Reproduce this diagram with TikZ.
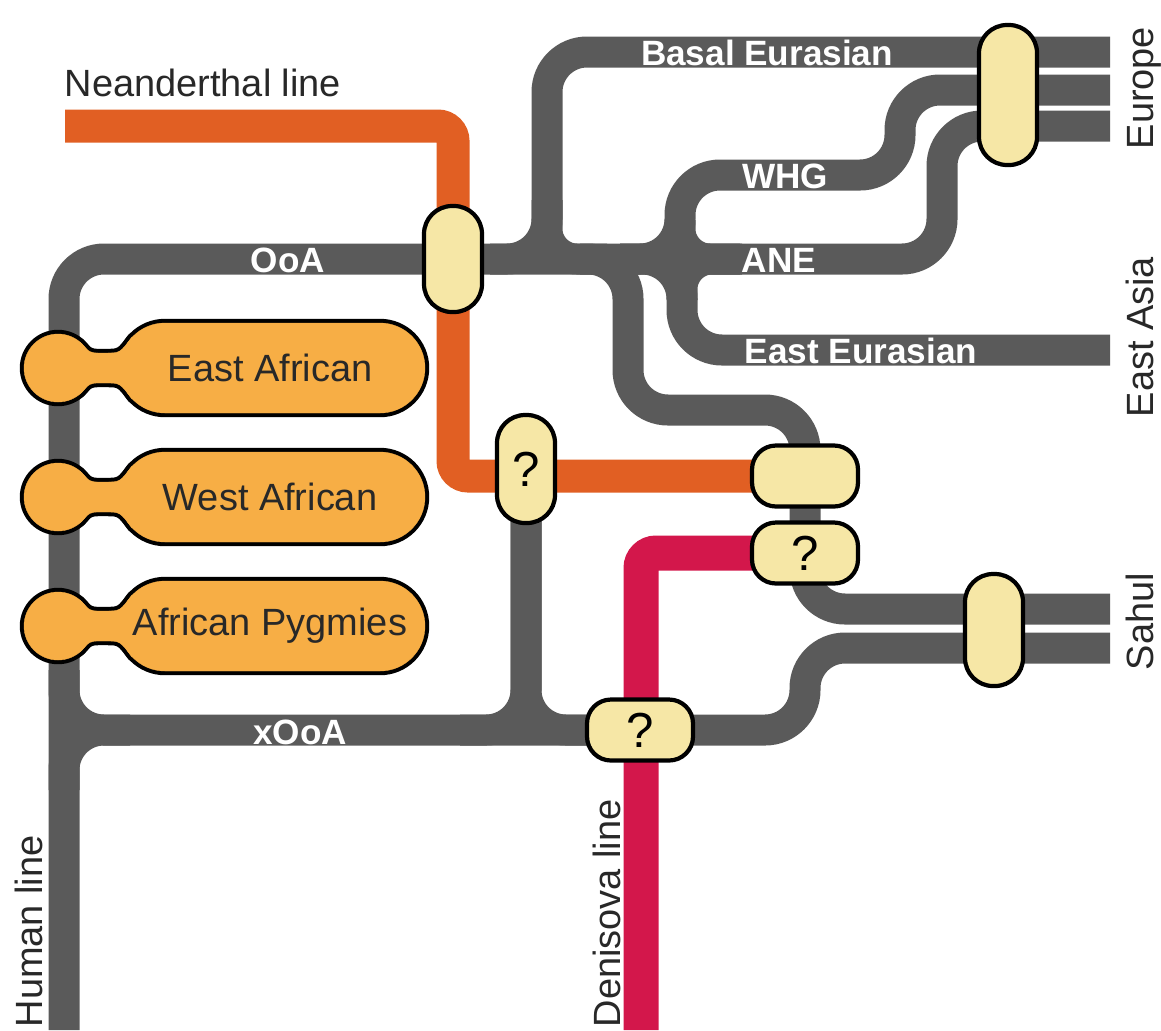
\documentclass[tikz,border=0pt]{standalone}
\usepackage{fontspec}
\setmainfont{Liberation Sans}
\usepackage{tikz}
\usetikzlibrary{backgrounds}

\definecolor{trackgray}{RGB}{90,90,90}
\definecolor{neander}{RGB}{225,95,35}
\definecolor{deniso}{RGB}{211,23,75}
\definecolor{cream}{RGB}{246,231,166}
\definecolor{afro}{RGB}{247,174,69}
\definecolor{labelgray}{RGB}{40,40,40}

\tikzset{
  track/.style={draw=trackgray, line width=0.31cm, rounded corners=0.4cm},
  vpill/.style={draw=black, line width=1.2pt, fill=cream, rounded corners=0.28cm,
    minimum width=0.58cm, minimum height=#1, inner sep=0pt, font=\fontsize{14}{14}\selectfont},
  hpill/.style={draw=black, line width=1.2pt, fill=cream, rounded corners=0.24cm,
    minimum width=1.06cm, minimum height=0.61cm, inner sep=0pt, font=\fontsize{14}{14}\selectfont},
  linename/.style={text=white, inner sep=0pt, font=\bfseries\fontsize{10}{10}\selectfont},
  blacktext/.style={text=labelgray, inner sep=0pt, font=\fontsize{10.8}{12}\selectfont},
  regionlabel/.style={blacktext, rotate=90, anchor=base west},
}

\begin{document}
\begin{tikzpicture}
    \useasboundingbox (0,0) rectangle (11.61,-10.30);

    \node[vpill=1.06cm] (ooa) at (4.53,-2.59) {};
    \node[vpill=1.08cm] (qone) at (5.26,-4.69) {?};
    \node[hpill] (mix) at (8.05,-4.76) {};
    \node[hpill] (qtwo) at (8.05,-5.53) {?};
    \node[hpill] (qthree) at (6.40,-7.30) {?};
    \node[vpill=1.40cm] (europe) at (10.08,-0.95) {};
    \node[vpill=1.12cm] (sahul) at (9.94,-6.30) {};
    \coordinate (sahulturn) at (8.05,-6.09);

    \begin{scope}[on background layer]
      \draw[track] (0.64,-10.30) |- (ooa.center) -- (9.42,-2.59) |- (11.10,-1.26);
      \draw[track] (4.90,-2.59) -| (5.47,-0.52) -- (11.10,-0.52);
      \draw[track] (6.20,-2.59) -| (6.80,-1.75) -| (9.00,-0.90) -- (11.10,-0.90);
      \draw[track] (6.20,-2.59) -| (6.82,-3.50) -- (11.10,-3.50);
      \draw[track] (5.80,-2.59) -| (6.28,-4.10) -| (sahulturn) -- (11.10,-6.09);
      \foreach \x/\y in {5.47/-2.0, 6.80/-2.2, 6.82/-3.0}
        \draw[track, rounded corners=0.3cm] (\x,\y) |- (\x+0.6,-2.59);
      \draw[track] (0.64,-6.70) |- (qthree.center) -- (8.05,-7.30) |- (11.10,-6.48);
      \draw[track] (0.64,-7.90) |- (1.30,-7.30);
      \foreach \e in {4.60,5.90}
        \draw[track] (qone.center) |- (\e,-7.30);
      \draw[draw=neander, line width=0.33cm, rounded corners=0.15cm] (0.65,-1.26) -| (ooa.center) |- (mix.center);
      \draw[draw=deniso, line width=0.35cm, rounded corners=0.15cm] (6.41,-10.30) |- (qtwo.center);
    \end{scope}

    \foreach \y/\t/\n in {-3.68/East African/eastaf, -4.97/West African/westaf, -6.26/African Pygmies/pygmy}{
      \begin{scope}[shift={(0,\y)}, line join=round]
        \foreach \c/\w in {black/2.4pt, afro/0.1pt}{
          \filldraw[fill=\c, draw=\c, line width=\w] (0.58,0) circle (0.34);
          \filldraw[fill=\c, draw=\c, line width=\w] (0.58,0) -- (0.80,0.259) .. controls (0.90,0.15) .. (1.00,0.15)
            -- (1.06,0.15) .. controls (1.20,0.15) .. (1.32,0.31) -- (1.65,0) -- (1.32,-0.31)
            .. controls (1.20,-0.15) .. (1.06,-0.15) -- (1.00,-0.15) .. controls (0.90,-0.15) .. (0.80,-0.259) -- cycle;
          \filldraw[fill=\c, draw=\c, line width=\w, rounded corners=0.45cm] (1.20,-0.45) rectangle (4.25,0.45);
        }
      \end{scope}
      \node[blacktext] (\n) at (2.70,\y) {\t};
    }

    \node[linename] (ooatext) at (2.88,-2.60) {OoA};
    \node[linename] (xooatext) at (3.00,-7.32) {xOoA};
    \node[linename] (basaltext) at (7.67,-0.53) {Basal Eurasian};
    \node[linename] (whgtext) at (7.85,-1.76) {WHG};
    \node[linename] (anetext) at (7.79,-2.60) {ANE};
    \node[linename] (eeutext) at (8.61,-3.51) {East Eurasian};

    \node[blacktext, anchor=base west] (neanderthal) at (0.64,-0.96) {Neanderthal line};
    \node[regionlabel] (eur) at (11.53,-1.50) {Europe};
    \node[regionlabel] (easia) at (11.53,-4.18) {East Asia};
    \node[regionlabel] (sah) at (11.53,-6.71) {Sahul};
    \node[regionlabel] (human) at (0.42,-10.28) {Human line};
    \node[regionlabel] (denisova) at (6.20,-10.28) {Denisova line};
\end{tikzpicture}
\end{document}
